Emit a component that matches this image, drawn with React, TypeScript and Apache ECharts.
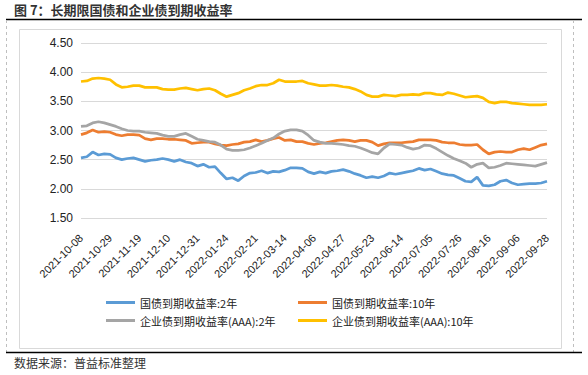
import React, { useEffect, useRef } from "react";
import * as echarts from "echarts";

const dates = [
  "2021-10-08", "2021-10-13", "2021-10-18", "2021-10-21", "2021-10-26",
  "2021-10-29", "2021-11-03", "2021-11-08", "2021-11-11", "2021-11-16",
  "2021-11-19", "2021-11-24", "2021-11-29", "2021-12-02", "2021-12-07",
  "2021-12-10", "2021-12-15", "2021-12-20", "2021-12-23", "2021-12-28",
  "2021-12-31", "2022-01-06", "2022-01-11", "2022-01-14", "2022-01-19",
  "2022-01-24", "2022-01-27", "2022-02-09", "2022-02-14", "2022-02-17",
  "2022-02-21", "2022-02-24", "2022-03-01", "2022-03-04", "2022-03-09",
  "2022-03-14", "2022-03-17", "2022-03-22", "2022-03-25", "2022-03-30",
  "2022-04-06", "2022-04-11", "2022-04-14", "2022-04-19", "2022-04-22",
  "2022-04-27", "2022-05-05", "2022-05-10", "2022-05-13", "2022-05-18",
  "2022-05-23", "2022-05-26", "2022-05-31", "2022-06-06", "2022-06-09",
  "2022-06-14", "2022-06-17", "2022-06-22", "2022-06-27", "2022-06-30",
  "2022-07-05", "2022-07-08", "2022-07-13", "2022-07-18", "2022-07-21",
  "2022-07-26", "2022-07-29", "2022-08-03", "2022-08-08", "2022-08-11",
  "2022-08-16", "2022-08-19", "2022-08-24", "2022-08-29", "2022-09-01",
  "2022-09-06", "2022-09-09", "2022-09-15", "2022-09-20", "2022-09-23",
  "2022-09-28",
];

const gov2y = [
  2.53, 2.55, 2.63, 2.58, 2.60, 2.59, 2.53, 2.50, 2.52, 2.53,
  2.50, 2.47, 2.49, 2.50, 2.52, 2.50, 2.47, 2.50, 2.46, 2.44,
  2.39, 2.42, 2.37, 2.38, 2.27, 2.17, 2.19, 2.14, 2.22, 2.27,
  2.28, 2.31, 2.27, 2.30, 2.29, 2.32, 2.36, 2.36, 2.35, 2.29,
  2.26, 2.29, 2.27, 2.30, 2.31, 2.33, 2.30, 2.26, 2.23, 2.19,
  2.21, 2.19, 2.22, 2.27, 2.25, 2.27, 2.29, 2.31, 2.35, 2.32,
  2.34, 2.30, 2.26, 2.24, 2.23, 2.18, 2.13, 2.12, 2.20, 2.06,
  2.05, 2.07, 2.13, 2.15, 2.10, 2.07, 2.08, 2.09, 2.09, 2.10,
  2.13,
];

const gov10y = [
  2.93, 2.96, 3.01, 2.97, 2.98, 2.97, 2.93, 2.91, 2.93, 2.93,
  2.92, 2.86, 2.84, 2.86, 2.86, 2.85, 2.85, 2.84, 2.83, 2.78,
  2.79, 2.80, 2.80, 2.77, 2.75, 2.74, 2.76, 2.77, 2.80, 2.81,
  2.84, 2.81, 2.83, 2.86, 2.88, 2.83, 2.84, 2.81, 2.81, 2.78,
  2.76, 2.78, 2.79, 2.81, 2.83, 2.84, 2.83, 2.81, 2.83, 2.83,
  2.80, 2.74, 2.77, 2.79, 2.79, 2.79, 2.80, 2.81, 2.84, 2.84,
  2.84, 2.83, 2.80, 2.79, 2.79, 2.76, 2.75, 2.75, 2.76, 2.67,
  2.60, 2.63, 2.64, 2.63, 2.63, 2.67, 2.69, 2.67, 2.71, 2.75,
  2.77,
];

const corp2y = [
  3.07, 3.08, 3.13, 3.15, 3.13, 3.10, 3.07, 3.03, 3.00, 2.99,
  2.99, 2.97, 2.96, 2.95, 2.92, 2.90, 2.90, 2.93, 2.95, 2.90,
  2.85, 2.83, 2.81, 2.80, 2.75, 2.68, 2.66, 2.66, 2.67, 2.70,
  2.74, 2.78, 2.83, 2.87, 2.94, 2.99, 3.01, 3.01, 2.99, 2.92,
  2.83, 2.80, 2.78, 2.78, 2.77, 2.76, 2.74, 2.73, 2.70, 2.66,
  2.62, 2.60, 2.70, 2.77, 2.76, 2.75, 2.71, 2.68, 2.70, 2.75,
  2.74, 2.69, 2.63, 2.57, 2.52, 2.48, 2.44, 2.37, 2.42, 2.44,
  2.36, 2.37, 2.40, 2.44, 2.43, 2.42, 2.41, 2.40, 2.39, 2.42,
  2.45,
];

const corp10y = [
  3.84, 3.85, 3.89, 3.90, 3.89, 3.87, 3.79, 3.74, 3.75, 3.77,
  3.77, 3.74, 3.74, 3.74, 3.71, 3.70, 3.70, 3.72, 3.73, 3.71,
  3.69, 3.71, 3.72, 3.69, 3.63, 3.58, 3.61, 3.64, 3.69, 3.72,
  3.76, 3.78, 3.78, 3.81, 3.87, 3.84, 3.84, 3.84, 3.85, 3.81,
  3.79, 3.77, 3.77, 3.78, 3.77, 3.75, 3.74, 3.71, 3.67, 3.61,
  3.58, 3.58, 3.61, 3.60, 3.59, 3.61, 3.61, 3.62, 3.61, 3.64,
  3.64, 3.62, 3.61, 3.65, 3.63, 3.60, 3.57, 3.58, 3.59, 3.56,
  3.49, 3.47, 3.49, 3.49, 3.47, 3.46, 3.45, 3.44, 3.44, 3.44,
  3.45,
];

const seriesNames = [
  "国债到期收益率:2年",
  "国债到期收益率:10年",
  "企业债到期收益率(AAA):2年",
  "企业债到期收益率(AAA):10年",
];
const seriesColors = ["#5B9BD5", "#ED7D31", "#A5A5A5", "#FFC000"];
const yTicks = [1.5, 2.0, 2.5, 3.0, 3.5, 4.0, 4.5];

const titleText = "图 7：长期限国债和企业债到期收益率";
const sourceText = "数据来源：普益标准整理";

const latin = 'Arial, "Liberation Sans", sans-serif';
const cjk = '"Noto Sans CJK SC", sans-serif';

export default function App() {
  const ref = useRef<HTMLDivElement>(null);
  useEffect(() => {
    if (!ref.current) return;
    const chart = echarts.init(ref.current, undefined, { renderer: "svg" });
    const allData = [gov2y, gov10y, corp2y, corp10y];
    const legendPos = [
      { left: 101, top: 292 },
      { left: 293, top: 292 },
      { left: 101, top: 310 },
      { left: 293, top: 310 },
    ];
    chart.setOption({
      animation: false,
      backgroundColor: "#ffffff",
      grid: { left: 81, right: 41, top: 43, bottom: 157, containLabel: false },
      legend: seriesNames.map((n, i) => ({
        data: [n],
        left: legendPos[i].left,
        top: legendPos[i].top,
        icon: "rect",
        itemWidth: 29,
        itemHeight: 3,
        itemGap: 0,
        textStyle: { fontFamily: cjk, fontSize: 11, color: "#222" },
        selectedMode: false,
      })),
      xAxis: {
        type: "category",
        data: dates,
        boundaryGap: false,
        axisLine: { show: false },
        axisTick: { show: false },
        splitLine: { show: false },
        axisLabel: {
          interval: 4,
          rotate: 45,
          margin: 18,
          fontFamily: latin,
          fontSize: 11,
          color: "#222",
        },
      },
      yAxis: {
        type: "value",
        min: yTicks[0],
        max: yTicks[yTicks.length - 1],
        interval: 0.5,
        axisLine: { show: false },
        axisTick: { show: false },
        splitLine: { lineStyle: { color: "#d9d9d9", width: 1 } },
        axisLabel: {
          margin: 8,
          fontFamily: latin,
          fontSize: 12,
          color: "#222",
          formatter: (v: number) => v.toFixed(2),
        },
      },
      series: allData.map((d, i) => ({
        name: seriesNames[i],
        type: "line",
        data: d,
        symbol: "none",
        lineStyle: { color: seriesColors[i], width: 2.75 },
        itemStyle: { color: seriesColors[i] },
        z: i === 0 ? 5 : 3,
      })),
      graphic: [
        {
          type: "text",
          left: 14,
          top: 3,
          style: {
            text: titleText,
            font: '600 13px "Noto Sans CJK SC", sans-serif',
            fill: "#333",
          },
        },
        {
          type: "line",
          shape: { x1: 6, y1: 19.5, x2: 582, y2: 19.5 },
          style: { stroke: "#000", lineWidth: 1.5 },
        },
        {
          type: "rect",
          shape: { x: 19.5, y: 29.5, width: 542, height: 319 },
          style: { fill: "none", stroke: "#d9d9d9", lineWidth: 1 },
        },
        {
          type: "line",
          shape: { x1: 6.5, y1: 20, x2: 6.5, y2: 352 },
          style: { stroke: "#bfbfbf", lineWidth: 1, lineDash: [3, 3] },
        },
        {
          type: "line",
          shape: { x1: 573.5, y1: 20, x2: 573.5, y2: 352 },
          style: { stroke: "#bfbfbf", lineWidth: 1, lineDash: [3, 3] },
        },
        {
          type: "line",
          shape: { x1: 6, y1: 352.5, x2: 582, y2: 352.5 },
          style: { stroke: "#000", lineWidth: 1.5 },
        },
        {
          type: "text",
          left: 14,
          top: 356,
          style: {
            text: sourceText,
            font: '12px "Noto Sans CJK SC", sans-serif',
            fill: "#333",
          },
        },
      ],
    });
    return () => chart.dispose();
  }, []);
  return (
    <div
      ref={ref}
      style={{ position: "fixed", left: 0, top: 0, width: 588, height: 375 }}
    />
  );
}
